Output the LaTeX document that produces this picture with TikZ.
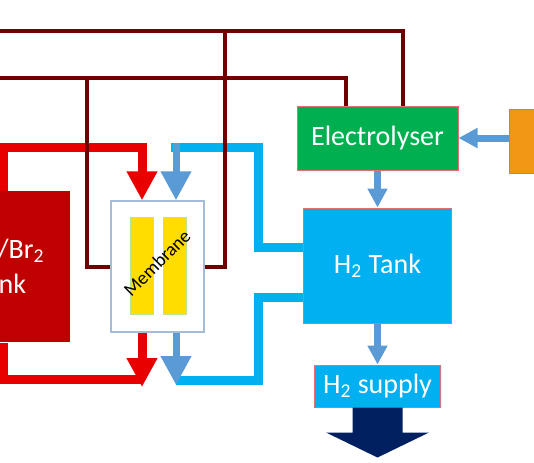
\documentclass[tikz,border=0pt]{standalone}
\usepackage{fontspec}
\setmainfont{Carlito}
\usetikzlibrary{arrows.meta,positioning}

\definecolor{darkmaroon}{RGB}{112,0,0}
\definecolor{pipered}{RGB}{232,0,0}
\definecolor{tankred}{RGB}{192,0,0}
\definecolor{pipeblue}{RGB}{0,176,240}
\definecolor{arrowblue}{RGB}{91,155,213}
\definecolor{elecgreen}{RGB}{0,176,80}
\definecolor{srcorange}{RGB}{242,150,22}
\definecolor{navyout}{RGB}{0,32,96}
\definecolor{membraneedge}{RGB}{165,188,215}
\definecolor{baryellow}{RGB}{255,221,0}
\definecolor{baredge}{RGB}{190,225,150}
\definecolor{boxedge}{RGB}{230,110,110}

\begin{document}
\begin{tikzpicture}[x=0.5pt,y=-0.5pt]

        \tikzstyle{box}=[shape=rectangle,draw=boxedge,line width=0.5pt,inner sep=0pt,text=white,align=center,font=\fontsize{14}{17.5}\selectfont]
        \tikzstyle{bar}=[shape=rectangle,fill=baryellow,draw=baredge,line width=0.3pt,inner sep=0pt,minimum width=11.5pt,minimum height=48.5pt]
        \tikzstyle{darkline}=[draw=darkmaroon,line width=2pt]
        \tikzstyle{redpipe}=[draw=pipered,line width=4.5pt]
        \tikzstyle{bluepipe}=[draw=pipeblue,line width=4.5pt]
        \tikzstyle{bluearrow}=[draw=arrowblue,line width=3.5pt]
        \tikzstyle{bigtip}=[-{Triangle[width=14.5pt,length=14.5pt]}]
        \tikzstyle{smalltip}=[-{Triangle[width=9.5pt,length=9.5pt]}]

        \useasboundingbox (0,0) rectangle (534,462);
        \clip (0,0) rectangle (534,462);

        \node[box,fill=tankred,draw=none,minimum width=70pt,minimum height=75.5pt] (tank) at (0,266.5) {HBr/Br\textsubscript{2}\\Tank};
        \node[draw=membraneedge,line width=0.7pt,fill=white,inner sep=0pt,minimum width=46.5pt,minimum height=65.5pt] (mem) at (157.5,266.5) {};
        \node[bar] (bar1) at (141.5,265.5) {};
        \node[bar] (bar2) [right=5pt of bar1] {};
        \node[rotate=45,inner sep=0pt,font=\fontsize{9.5}{11}\selectfont] (memtext) at (157,263) {Membrane};

        \node[box,fill=elecgreen,minimum width=80.5pt,minimum height=32pt] (elec) at (377.5,138) {Electrolyser};
        \node[box,fill=pipeblue,minimum width=74pt,minimum height=57.5pt] (h2) [below=18.5pt of elec] {H\textsubscript{2} Tank};
        \node[box,fill=pipeblue,minimum width=63pt,minimum height=21pt] (supply) [below=20.5pt of h2] {H\textsubscript{2} supply};
        \node[box,fill=srcorange,minimum width=30pt,minimum height=32pt] (src) at (539,141) {};

        \coordinate (rx) at (3,0);
        \coordinate (rtop) at (142,147);
        \coordinate (rtip) at (142,387);
        \coordinate (rbot) at (142,379);
        \coordinate (bx) at (258,0);
        \coordinate (bend) at (171,147);
        \coordinate (bstart) at (176,143);
        \coordinate (btip) at (176,385);
        \coordinate (bbot) at (176,380);
        \coordinate (hin) at (0,247);
        \coordinate (hout) at (0,297);
        \coordinate (d1) at (-10,31);
        \coordinate (d2) at (-10,78);
        \coordinate (j1) at (225,31);
        \coordinate (j2) at (87,78);
        \coordinate (e1) at (403,0);
        \coordinate (e2) at (346,0);

        \draw[redpipe,bigtip] (tank.north -| rx) |- (rtop) -- (rtop |- mem.north);
        \draw[redpipe] (rbot) -| (tank.south -| rx);
        \draw[redpipe,bigtip] (mem.south -| rtip) -- (rtip);

        \draw[bluepipe] (h2.west |- hin) -| (bx |- bend) -- (bend);
        \draw[bluearrow,bigtip] (bstart) -- (bstart |- mem.north);
        \draw[bluepipe] (bbot) -| (bx |- hout) -- (h2.west |- hout);
        \draw[bluearrow,bigtip] (mem.south -| btip) -- (btip);

        \draw[darkline] (d1) -| (elec.north -| e1);
        \draw[darkline] (d2) -| (elec.north -| e2);
        \draw[darkline] (j1) |- (mem.east);
        \draw[darkline] (j2) |- (mem.west);

        \draw[bluearrow,smalltip] (src.west |- elec.east) -- (elec.east);
        \draw[bluearrow,smalltip] (elec) -- (h2);
        \draw[bluearrow,smalltip] (h2) -- (supply);

        \fill[navyout] (supply.south) ++(-25,0) -- ++(0,25) -- ++(-26.5,0) -- ++(51.5,25) -- ++(51.5,-25) -- ++(-26.5,0) -- ++(0,-25) -- cycle;
      \end{tikzpicture}
\end{document}
